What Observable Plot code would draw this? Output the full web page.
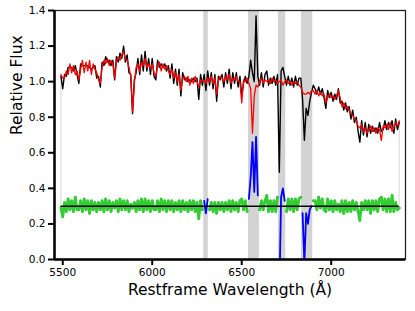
<!DOCTYPE html>
<html><head><meta charset="utf-8">
<script src="https://cdn.jsdelivr.net/npm/d3@7"></script>
<script src="https://cdn.jsdelivr.net/npm/@observablehq/plot@0.6"></script>
<style>
body{margin:0;background:#fff}
svg{font-family:"DejaVu Sans",sans-serif}
</style>
</head><body><div id="chart"></div>
<script>
// Restframe wavelength grid (Å)
const wavelength = [
5490,5500,5510,5520,5530,5540,5550,5560,5570,5580,
5590,5600,5610,5620,5630,5640,5650,5660,5670,5680,
5690,5700,5710,5720,5730,5740,5750,5760,5770,5780,
5790,5800,5810,5820,5830,5840,5850,5860,5870,5880,
5890,5900,5910,5920,5930,5940,5950,5960,5970,5980,
5990,6000,6010,6020,6030,6040,6050,6060,6070,6080,
6090,6100,6110,6120,6130,6140,6150,6160,6170,6180,
6190,6200,6210,6220,6230,6240,6250,6260,6270,6280,
6290,6300,6310,6320,6330,6340,6350,6360,6370,6380,
6390,6400,6410,6420,6430,6440,6450,6460,6470,6480,
6490,6500,6510,6520,6530,6540,6550,6560,6570,6580,
6590,6600,6610,6620,6630,6640,6650,6660,6670,6680,
6690,6700,6710,6720,6730,6740,6750,6760,6770,6780,
6790,6800,6810,6820,6830,6840,6850,6860,6870,6880,
6890,6900,6910,6920,6930,6940,6950,6960,6970,6980,
6990,7000,7010,7020,7030,7040,7050,7060,7070,7080,
7090,7100,7110,7120,7130,7140,7150,7160,7170,7180,
7190,7200,7210,7220,7230,7240,7250,7260,7270,7280,
7290,7300,7310,7320,7330,7340,7350,7360,7370,7380];

// Observed relative flux (black)
const flux = [
1.03,0.96,1.04,1.03,1.08,1.08,1.08,1.06,1.09,1.04,
0.99,1.10,1.09,1.09,1.09,1.09,1.08,1.07,1.08,1.09,
1.02,1.03,0.97,1.11,1.09,1.14,1.11,1.12,1.09,1.12,
1.01,1.14,1.11,1.16,1.13,1.20,1.11,1.15,1.05,1.04,
0.82,1.01,1.05,1.13,1.04,1.15,1.06,1.17,1.06,1.13,
1.04,1.13,1.03,1.01,1.12,1.08,1.10,1.08,1.10,1.06,
1.09,1.02,1.10,0.99,1.07,0.98,1.07,0.92,1.05,1.01,
1.02,1.00,1.01,1.00,1.02,1.00,1.02,0.90,1.04,0.98,
1.04,0.95,1.06,0.98,1.05,0.96,1.04,0.89,1.03,1.01,
1.04,0.97,1.05,0.99,1.07,0.96,1.05,0.99,1.05,0.97,
1.03,0.92,0.99,1.03,0.99,1.03,1.12,1.05,1.00,1.37,
1.03,0.98,1.05,0.97,1.04,1.06,0.98,1.02,0.99,1.03,
0.98,1.04,0.49,1.06,1.08,1.03,0.98,1.03,0.98,1.02,
0.97,1.03,0.98,1.02,1.02,0.90,0.67,0.85,0.81,0.89,
0.94,0.98,0.96,0.93,0.97,0.93,0.96,0.91,0.85,0.95,
0.91,0.94,0.89,0.93,0.90,0.96,0.88,0.89,0.84,0.88,
0.83,0.86,0.79,0.84,0.77,0.80,0.72,0.66,0.78,0.70,
0.77,0.69,0.76,0.71,0.75,0.72,0.74,0.71,0.77,0.72,
0.73,0.78,0.73,0.77,0.74,0.78,0.71,0.79,0.73,0.77];

// Model fit (red)
const model = [
1.04,1.02,1.02,1.06,1.04,1.10,1.05,1.09,1.04,1.06,
1.01,1.07,1.12,1.05,1.11,1.06,1.12,1.04,1.10,1.07,
1.05,1.01,0.99,1.08,1.12,1.10,1.13,1.09,1.12,1.10,
1.02,1.11,1.14,1.12,1.15,1.17,1.13,1.12,1.08,1.03,
0.83,0.99,1.08,1.10,1.06,1.11,1.09,1.13,1.08,1.10,
1.07,1.10,1.05,1.03,1.09,1.11,1.06,1.10,1.07,1.09,
1.06,1.04,1.07,1.02,1.05,1.00,1.04,0.95,1.02,1.03,
1.00,1.03,0.98,1.02,0.99,1.03,1.00,0.97,1.01,1.00,
1.01,0.99,1.02,1.00,1.03,0.99,1.02,0.93,1.01,1.03,
1.02,1.00,1.03,1.01,1.04,0.99,1.02,1.01,1.03,1.00,
1.00,0.88,1.01,1.00,1.02,0.99,0.96,0.71,0.92,0.98,
0.97,1.00,1.02,0.99,1.01,1.00,1.01,0.99,1.02,1.00,
1.01,0.99,1.00,1.01,0.98,1.00,1.01,0.99,1.00,0.98,
1.00,0.99,1.00,0.98,0.97,0.94,0.93,0.93,0.94,0.93,
0.95,0.95,0.93,0.95,0.92,0.94,0.92,0.93,0.88,0.91,
0.93,0.91,0.92,0.90,0.92,0.95,0.91,0.86,0.88,0.85,
0.86,0.84,0.82,0.81,0.79,0.78,0.75,0.74,0.76,0.72,
0.74,0.71,0.73,0.75,0.72,0.74,0.71,0.74,0.73,0.67,
0.75,0.74,0.76,0.73,0.77,0.72,0.74,0.77,0.75,0.78];

// Residuals, offset to 0.3 (green; blue inside masked windows)
const residual = [
0.29,0.24,0.32,0.27,0.34,0.28,0.33,0.27,0.35,0.28,
0.28,0.33,0.27,0.34,0.28,0.33,0.26,0.33,0.28,0.32,
0.27,0.32,0.28,0.33,0.27,0.34,0.28,0.33,0.27,0.32,
0.29,0.33,0.27,0.34,0.28,0.33,0.28,0.33,0.27,0.31,
0.29,0.32,0.27,0.33,0.28,0.34,0.27,0.34,0.28,0.33,
0.27,0.33,0.28,0.28,0.33,0.27,0.34,0.28,0.33,0.27,
0.33,0.28,0.33,0.27,0.32,0.28,0.33,0.27,0.33,0.28,
0.32,0.27,0.33,0.28,0.33,0.27,0.32,0.23,0.33,0.28,
0.33,0.26,0.34,0.28,0.32,0.27,0.32,0.26,0.32,0.28,
0.32,0.27,0.32,0.28,0.33,0.27,0.33,0.28,0.32,0.27,
0.33,0.34,0.28,0.33,0.27,0.34,0.46,0.66,0.38,0.69,
0.36,0.28,0.33,0.28,0.33,0.36,0.27,0.33,0.27,0.33,
0.27,0.35,-0.21,0.35,0.40,0.33,0.27,0.34,0.28,0.34,
0.27,0.34,0.28,0.34,0.35,0.26,-0.02,0.26,0.20,0.28,
0.30,0.33,0.33,0.28,0.35,0.29,0.34,0.28,0.27,0.34,
0.28,0.33,0.27,0.33,0.28,0.31,0.27,0.33,0.26,0.33,
0.27,0.32,0.27,0.33,0.28,0.32,0.27,0.22,0.32,0.28,
0.33,0.28,0.33,0.26,0.33,0.28,0.33,0.27,0.34,0.35,
0.28,0.34,0.27,0.34,0.27,0.36,0.27,0.32,0.28,0.29];

// Masked wavelength windows (gray bands)
const maskWindows = [[6288,6313],[6538,6599],[6705,6746],[6834,6897]];
const residualZero = 0.3;
const xTicks = [5500, 6000, 6500, 7000];
const yTicks = [0, 0.2, 0.4, 0.6, 0.8, 1.0, 1.2, 1.4];
const xDomain = [5454, 7415];
const yDomain = [0, 1.4];

const inMask = w => maskWindows.some(([a, b]) => w >= a && w <= b);
const table = wavelength.map((w, i) => ({
  w, flux: flux[i], model: model[i], resid: residual[i],
  green: inMask(w) ? NaN : residual[i],
  blue: inMask(w) ? residual[i] : NaN
}));
const first = table[0], last = table[table.length - 1];
const greenPts = table.filter(d => !inMask(d.w));

const chart = Plot.plot({
  width: 415, height: 311,
  marginLeft: 54, marginRight: 10, marginTop: 10, marginBottom: 52,
  style: {fontFamily: "DejaVu Sans, sans-serif", background: "#fff", color: "#000"},
  x: {domain: xDomain},
  y: {domain: yDomain},
  marks: [
    Plot.rect(maskWindows, {x1: d => d[0], x2: d => d[1], fill: "#d3d3d3"}),
    Plot.ruleX([first, last], {x: "w", y1: "resid", y2: "flux", stroke: "#dcdcdc", strokeWidth: 1.2}),
    Plot.lineY(table, {x: "w", y: "flux", stroke: "#000", strokeWidth: 1.4, clip: true}),
    Plot.lineY(table, {x: "w", y: "model", stroke: "#ff0000", strokeWidth: 1.3, clip: true}),
    Plot.lineY(table, {x: "w", y: "green", stroke: "#32cd32", strokeWidth: 2.8, clip: true}),
    Plot.dot(greenPts, {x: "w", y: "resid", r: 1.3, fill: "#32cd32", stroke: "none"}),
    Plot.lineY(table, {x: "w", y: "blue", stroke: "#0000ff", strokeWidth: 1.8, clip: true}),
    Plot.ruleY([residualZero], {x1: first.w, x2: last.w, stroke: "#000", strokeWidth: 1.5}),
    Plot.frame({stroke: "#222", strokeWidth: 1.3}),
    Plot.ruleY([yDomain[0]], {stroke: "#000", strokeWidth: 2.5}),
    Plot.ruleX([xDomain[0]], {stroke: "#000", strokeWidth: 2.5}),
    Plot.axisX({ticks: xTicks, tickSize: 6, tickPadding: 3, fontSize: 10.5, label: null, strokeWidth: 2, tickFormat: d => String(d)}),
    Plot.axisY({ticks: yTicks, tickSize: 6, tickPadding: 3, fontSize: 10.5, label: null, strokeWidth: 2, tickFormat: d3.format(".1f")}),
    Plot.text(["Restframe Wavelength (Å)"], {frameAnchor: "bottom", dy: 35, fontSize: 15.5, fill: "#000"}),
    Plot.text(["Relative Flux"], {frameAnchor: "left", dx: -37, rotate: -90, fontSize: 15.5, fill: "#000"})
  ]
});
document.getElementById("chart").appendChild(chart);
</script></body></html>
